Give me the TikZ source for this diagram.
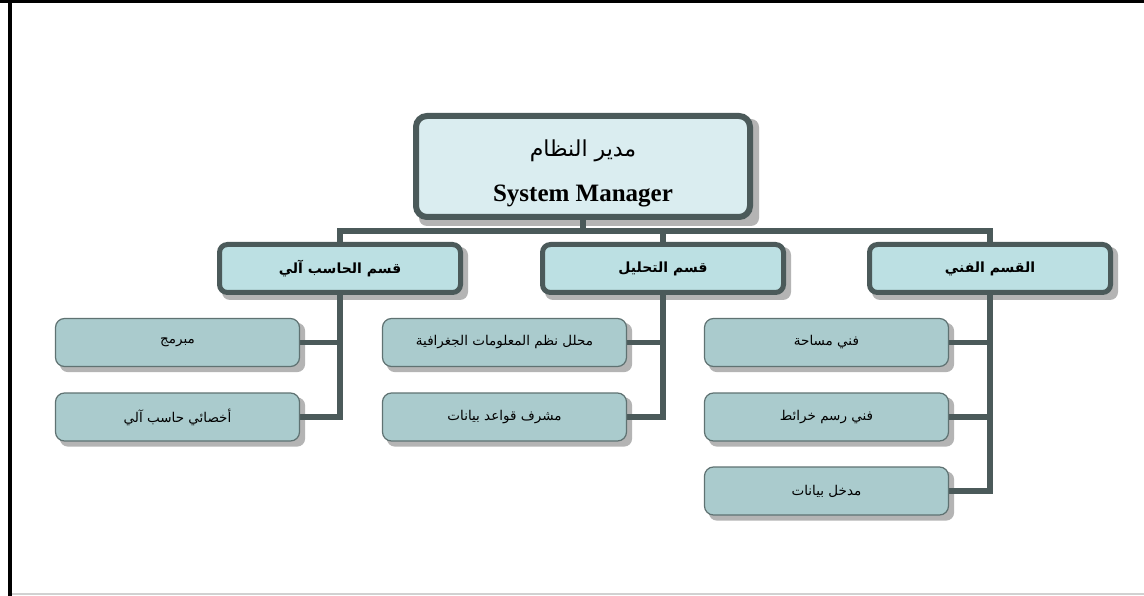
\documentclass[tikz,border=0pt]{standalone}
\usepackage{fontspec}
\setmainfont{Liberation Serif}
\newfontfamily\arabicfont[Script=Arabic]{DejaVu Sans}
\TeXXeTstate=1
\usetikzlibrary{calc}
\pgfdeclarelayer{bglayer}
\pgfdeclarelayer{shadowlayer}
\pgfdeclarelayer{linelayer}
\pgfsetlayers{bglayer,shadowlayer,linelayer,main}
\definecolor{bordc}{HTML}{4B5A5A}
\definecolor{bordthin}{HTML}{5F7272}
\definecolor{cone}{HTML}{DAEDF0}
\definecolor{ctwo}{HTML}{BCE0E3}
\definecolor{cthree}{HTML}{AACBCD}
\definecolor{shadowc}{HTML}{B4B4B4}
\newcommand\castshadow[2]{\fill[shadowc, rounded corners=8pt] ($(#1.north west)+(#2,#2)$) rectangle ($(#1.south east)+(#2,#2)$);}
\newcommand\artxt[1]{{\arabicfont\beginR #1\endR}}
\begin{document}
\begin{tikzpicture}[x=1pt,y=-1pt,
  topbox/.style={draw=bordc, line width=6pt, fill=cone, rounded corners=11pt, minimum width=334pt, minimum height=101pt, inner sep=0pt},
  deptbox/.style={draw=bordc, line width=5pt, fill=ctwo, rounded corners=8pt, minimum width=241pt, minimum height=48pt, inner sep=0pt, font=\fontsize{14}{17}\selectfont\bfseries},
  staffbox/.style={draw=bordthin, line width=1.2pt, fill=cthree, rounded corners=9pt, minimum width=244pt, minimum height=48pt, inner sep=0pt, font=\fontsize{13.5}{16}\selectfont},
  conn/.style={draw=bordc, line width=5.5pt},
  txt/.style={inner sep=0pt}]
\useasboundingbox (0,0) rectangle (1144,596);
\begin{pgfonlayer}{bglayer}
\fill[white] (0,0) rectangle (1144,596);
\fill[black] (0,0) rectangle (1144,3);
\fill[black] (8,0) rectangle (12,596);
\fill[black!18] (12,593) rectangle (1144,595);
\end{pgfonlayer}

% top
\node[topbox] (top) at (583,166.5) {};
\node[txt, font=\fontsize{22}{26}\selectfont] (toptitle) at (583,151) {\artxt{مدير النظام}};
\node[txt, font=\fontsize{25}{30}\selectfont\bfseries] (topsub) at (583,196) {System Manager};

% departments
\node[deptbox] (d1) at (340,268.5) {\artxt{قسم الحاسب آلي}};
\node[deptbox] (d2) at (663,268.5) {\artxt{قسم التحليل}};
\node[deptbox] (d3) at (990,268.5) {\artxt{القسم الفني}};

% staff
\node[staffbox] (s11) at (177.5,342.5) {\artxt{مبرمج}};
\node[staffbox] (s12) at (177.5,417) {\artxt{أخصائي حاسب آلي}};
\node[staffbox] (s21) at (504.5,342.5) {\artxt{محلل نظم المعلومات الجغرافية}};
\node[staffbox] (s22) at (504.5,417) {\artxt{مشرف قواعد بيانات}};
\node[staffbox] (s31) at (826.5,342.5) {\artxt{فني مساحة}};
\node[staffbox] (s32) at (826.5,417) {\artxt{فني رسم خرائط}};
\node[staffbox] (s33) at (826.5,491) {\artxt{مدخل بيانات}};

\coordinate (barL) at (340,231);

\begin{pgfonlayer}{shadowlayer}
  \castshadow{top}{6}
  \castshadow{d1}{5}
  \castshadow{d2}{5}
  \castshadow{d3}{5}
  \castshadow{s11}{5}
  \castshadow{s12}{5}
  \castshadow{s21}{5}
  \castshadow{s22}{5}
  \castshadow{s31}{5}
  \castshadow{s32}{5}
  \castshadow{s33}{5}
\end{pgfonlayer}

\begin{pgfonlayer}{linelayer}
  \draw[conn] (top.south) -- (top.south |- barL);
  \draw[conn] (d1.north) -- (d1.north |- barL) -- (d3.north |- barL) -- (d3.north);
  \draw[conn] (d2.north |- barL) -- (d2.north);
  \draw[conn] (d1.south) -- (d1.south |- s12.east) -- (s12.east);
  \draw[conn] (s11.east) -- (s11.east -| d1.south);
  \draw[conn] (d2.south) -- (d2.south |- s22.east) -- (s22.east);
  \draw[conn] (s21.east) -- (s21.east -| d2.south);
  \draw[conn] (d3.south) -- (d3.south |- s33.east) -- (s33.east);
  \draw[conn] (s31.east) -- (s31.east -| d3.south);
  \draw[conn] (s32.east) -- (s32.east -| d3.south);
\end{pgfonlayer}
\end{tikzpicture}
\end{document}
